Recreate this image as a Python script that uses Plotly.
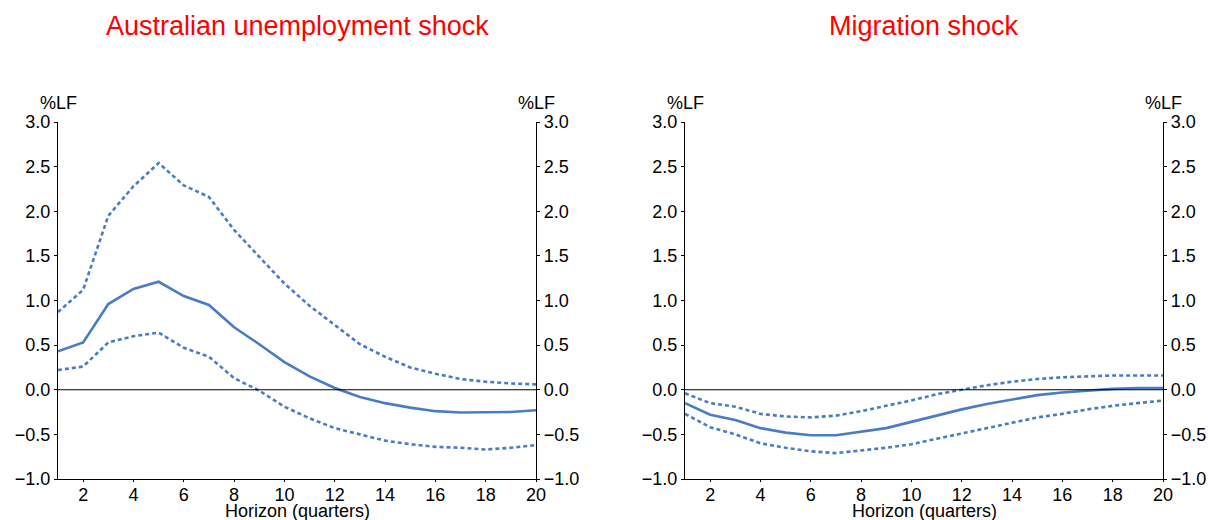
import plotly.graph_objects as go

# Horizon in quarters
horizon = list(range(1, 21))

# Australian unemployment shock: response and error bands (%LF)
aus_mid = [0.43, 0.53, 0.96, 1.13, 1.21, 1.05, 0.95, 0.70, 0.51, 0.31,
           0.15, 0.02, -0.08, -0.15, -0.20, -0.24, -0.255, -0.255, -0.25, -0.23]
aus_upper = [0.87, 1.12, 1.95, 2.28, 2.54, 2.29, 2.16, 1.79, 1.49, 1.19,
             0.94, 0.72, 0.51, 0.37, 0.25, 0.18, 0.12, 0.09, 0.07, 0.06]
aus_lower = [0.22, 0.26, 0.53, 0.60, 0.64, 0.47, 0.37, 0.13, -0.01, -0.19,
             -0.32, -0.43, -0.50, -0.57, -0.61, -0.64, -0.65, -0.67, -0.65, -0.62]

# Migration shock: response and error bands (%LF)
mig_mid = [-0.15, -0.28, -0.34, -0.43, -0.48, -0.51, -0.51, -0.47, -0.43, -0.36,
           -0.29, -0.22, -0.16, -0.11, -0.06, -0.03, -0.01, 0.01, 0.02, 0.02]
mig_upper = [-0.04, -0.15, -0.19, -0.27, -0.30, -0.31, -0.29, -0.24, -0.18, -0.12,
             -0.05, 0.00, 0.05, 0.09, 0.12, 0.14, 0.15, 0.16, 0.16, 0.16]
mig_lower = [-0.27, -0.42, -0.50, -0.60, -0.65, -0.69, -0.71, -0.68, -0.65, -0.61,
             -0.55, -0.49, -0.43, -0.37, -0.31, -0.27, -0.22, -0.18, -0.15, -0.12]

y_ticks = [-1.0, -0.5, 0.0, 0.5, 1.0, 1.5, 2.0, 2.5, 3.0]
y_ticktext = ["\u22121.0", "\u22120.5", "0.0", "0.5", "1.0", "1.5", "2.0", "2.5", "3.0"]
x_ticks = [2, 4, 6, 8, 10, 12, 14, 16, 18, 20]

panel_titles = ["Australian unemployment shock", "Migration shock"]
unit_label = "%LF"
x_title = "Horizon (quarters)"

BLUE = "#4A7CC6"
FONT = "Liberation Sans, Arial, sans-serif"
W, H = 1208, 520

# Plot-area pixel bounds
left_px = [(58, 536), (685, 1163)]
top_px, bottom_px = 122, 479

fig = go.Figure()

panels = [(aus_mid, aus_upper, aus_lower), (mig_mid, mig_upper, mig_lower)]
for i, (mid, up, lo) in enumerate(panels):
    xa = "x" if i == 0 else "x2"
    ya = "y" if i == 0 else "y3"
    ya_right = "y2" if i == 0 else "y4"
    for band in (up, lo):
        fig.add_trace(go.Scatter(x=horizon, y=band, xaxis=xa, yaxis=ya, mode="lines",
                                 line=dict(color=BLUE, width=2.6, dash="4px,3px"),
                                 showlegend=False, hoverinfo="skip"))
    fig.add_trace(go.Scatter(x=horizon, y=mid, xaxis=xa, yaxis=ya, mode="lines",
                             line=dict(color=BLUE, width=2.6),
                             showlegend=False))
    # zero reference line, tied to the right-hand axis
    fig.add_trace(go.Scatter(x=[horizon[0], horizon[-1]], y=[0, 0], xaxis=xa, yaxis=ya_right,
                             mode="lines", line=dict(color="black", width=1),
                             showlegend=False, hoverinfo="skip"))

ydom = [1 - bottom_px / H, 1 - top_px / H]

def xaxis_cfg(px, anchor):
    return dict(domain=[px[0] / W, px[1] / W], range=[1, 20], anchor=anchor,
                tickvals=x_ticks, ticks="outside", ticklen=2, tickcolor="black",
                showline=True, linecolor="black", linewidth=1.2, showgrid=False,
                zeroline=False, automargin=False, ticklabelstandoff=-3,
                tickfont=dict(size=18, color="black", family=FONT))

def yaxis_cfg(anchor, side, overlaying=None):
    cfg = dict(domain=ydom, range=[-1.0, 3.0], anchor=anchor, side=side,
               tickvals=y_ticks, ticktext=y_ticktext, ticks="outside", ticklen=3,
               tickcolor="black", showline=True, linecolor="black", linewidth=1.2,
               showgrid=False, zeroline=False, automargin=False,
               tickfont=dict(size=18, color="black", family=FONT))
    if overlaying:
        cfg["overlaying"] = overlaying
        cfg["ticklabelstandoff"] = 0
    return cfg

fig.update_layout(
    width=W, height=H, autosize=False,
    margin=dict(l=0, r=0, t=0, b=0, pad=0, autoexpand=False),
    paper_bgcolor="white", plot_bgcolor="white",
    font=dict(family=FONT, color="black"),
    xaxis=xaxis_cfg(left_px[0], "y"),
    yaxis=yaxis_cfg("x", "left"),
    yaxis2=yaxis_cfg("x", "right", overlaying="y"),
    xaxis2=xaxis_cfg(left_px[1], "y3"),
    yaxis3=yaxis_cfg("x2", "left"),
    yaxis4=yaxis_cfg("x2", "right", overlaying="y3"),
)

annotations = []
for i, px in enumerate(left_px):
    cx = (px[0] + px[1]) / 2 / W
    annotations.append(dict(text=panel_titles[i], x=cx, y=1 - 26 / H, xref="paper", yref="paper",
                            showarrow=False, font=dict(size=27, color="#FF0000", family=FONT),
                            xanchor="center", yanchor="middle"))
    for edge in px:
        annotations.append(dict(text=unit_label, x=edge / W, y=1 - 103 / H, xref="paper",
                                yref="paper", showarrow=False,
                                font=dict(size=18, color="black", family=FONT),
                                xanchor="center", yanchor="middle"))
    annotations.append(dict(text=x_title, x=cx, y=1 - 511 / H, xref="paper", yref="paper",
                            showarrow=False, font=dict(size=18, color="black", family=FONT),
                            xanchor="center", yanchor="middle"))
fig.update_layout(annotations=annotations)

fig.write_html("out.html")
